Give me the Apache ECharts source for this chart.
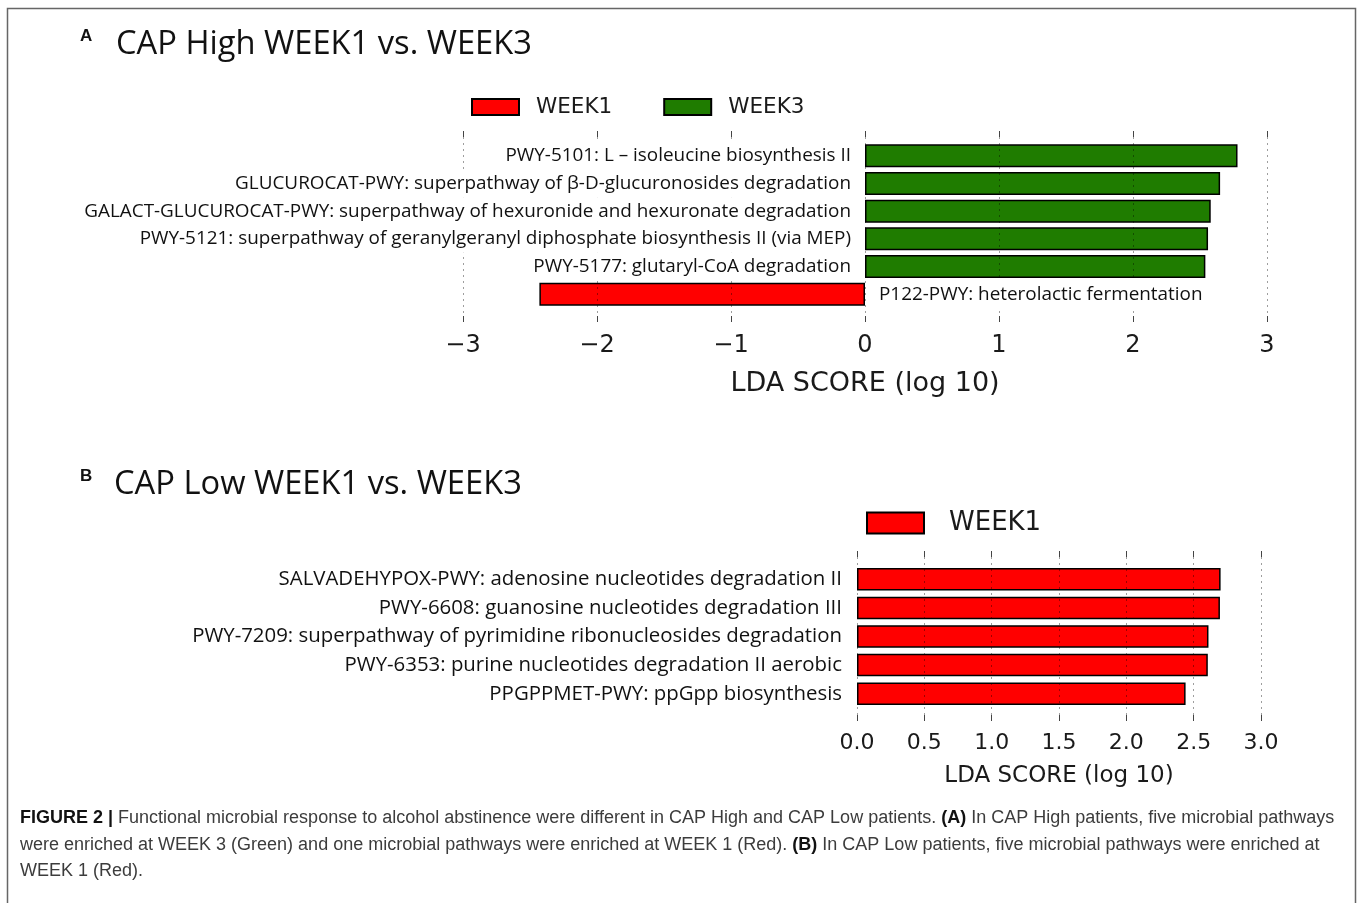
<!DOCTYPE html>
<html>
<head>
<meta charset="utf-8">
<script src="https://cdn.jsdelivr.net/npm/echarts@6/dist/echarts.min.js"></script>
<style>
  html, body { margin: 0; padding: 0; background: #fff; }
  #chart { width: 1357px; height: 903px; }
</style>
</head>
<body>
<div id="chart"></div>
<script>
// ---------- data ----------
const topCategories = [
  'PWY-5101: L \u2013 isoleucine biosynthesis II',
  'GLUCUROCAT-PWY: superpathway of \u03b2-D-glucuronosides degradation',
  'GALACT-GLUCUROCAT-PWY: superpathway of hexuronide and hexuronate degradation',
  'PWY-5121: superpathway of geranylgeranyl diphosphate biosynthesis II (via MEP)',
  'PWY-5177: glutaryl-CoA degradation',
  'P122-PWY: heterolactic fermentation'
];
const topWeek3 = [2.78, 2.65, 2.58, 2.56, 2.54, '-'];
const topWeek1 = ['-', '-', '-', '-', '-', -2.43];
const topTickValues = [-3, -2, -1, 0, 1, 2, 3];
const topTickLabels = ['\u22123', '\u22122', '\u22121', '0', '1', '2', '3'];

const bottomCategories = [
  'SALVADEHYPOX-PWY: adenosine nucleotides degradation II',
  'PWY-6608: guanosine nucleotides degradation III',
  'PWY-7209: superpathway of pyrimidine ribonucleosides degradation',
  'PWY-6353: purine nucleotides degradation II aerobic',
  'PPGPPMET-PWY: ppGpp biosynthesis'
];
const bottomWeek1 = [2.70, 2.695, 2.61, 2.605, 2.44];
const bottomTickValues = [0, 0.5, 1, 1.5, 2, 2.5, 3];
const bottomTickLabels = ['0.0', '0.5', '1.0', '1.5', '2.0', '2.5', '3.0'];

const seriesNames = ['WEEK1', 'WEEK3'];
const titleA = 'CAP High WEEK1 vs. WEEK3';
const titleB = 'CAP Low WEEK1 vs. WEEK3';
const captionLines = [
  '{b|FIGURE 2 |} Functional microbial response to alcohol abstinence were different in CAP High and CAP Low patients. {b|(A)} In CAP High patients, five microbial pathways',
  'were enriched at WEEK 3 (Green) and one microbial pathways were enriched at WEEK 1 (Red). {b|(B)} In CAP Low patients, five microbial pathways were enriched at',
  'WEEK 1 (Red).'
];

// ---------- style ----------
const RED = '#ff0000';
const GREEN = '#1f7c00';
const LABEL_FONT = '"Open Sans", sans-serif';
const AXIS_FONT = '"DejaVu Sans", sans-serif';
const CAPTION_FONT = '"Liberation Sans", Arial, sans-serif';

function tickFmt(values, labels) {
  return function (v) {
    const i = values.findIndex(t => Math.abs(t - v) < 1e-6);
    return i >= 0 ? labels[i] : '';
  };
}

const gridLine = { show: true, lineStyle: { color: 'rgba(0,0,0,0.38)', width: 1, type: [2, 4] } };

function overlayAxes(gridIndex, min, max, interval, values, labels, fontSize, margin, nameSize, nameGap) {
  return [
    {
      gridIndex, type: 'value', min, max, interval, position: 'bottom', z: 10,
      axisLine: { show: false },
      axisTick: { show: true, inside: true, length: 6, lineStyle: { color: '#444', width: 1 } },
      axisLabel: { show: true, formatter: tickFmt(values, labels), fontFamily: AXIS_FONT, fontSize, color: '#1a1a1a', margin },
      splitLine: gridLine,
      name: 'LDA SCORE (log 10)', nameLocation: 'middle', nameGap,
      nameTextStyle: { fontFamily: AXIS_FONT, fontSize: nameSize, color: '#1a1a1a' }
    },
    {
      gridIndex, type: 'value', min, max, interval, position: 'top', z: 10,
      axisLine: { show: false },
      axisTick: { show: true, inside: true, length: 6, lineStyle: { color: '#444', width: 1 } },
      axisLabel: { show: false },
      splitLine: { show: false }
    }
  ];
}

function barLabel(pos, dist, size) {
  return {
    show: true, position: pos, distance: dist,
    formatter: p => p.name,
    fontFamily: LABEL_FONT, fontSize: size, color: '#111',
    backgroundColor: '#fff', padding: [4, 0], lineHeight: 20
  };
}

function barSeries(name, data, color, xi, yi, width) {
  return {
    name, type: 'bar', xAxisIndex: xi, yAxisIndex: yi, data, barWidth: width, barGap: '-100%',
    itemStyle: { color, borderColor: '#000', borderWidth: 1.5 }, z: 2
  };
}

function labelSeries(data, pos, dist, xi, yi, width, size) {
  return {
    name: 'labels', type: 'bar', xAxisIndex: xi, yAxisIndex: yi, data, barWidth: width, barGap: '-100%',
    itemStyle: { color: 'rgba(0,0,0,0)' }, silent: true, z: 20,
    label: barLabel(pos, dist, size)
  };
}

const option = {
  backgroundColor: '#fff',
  animation: false,
  title: [
    { text: 'A', left: 80, top: 28, padding: 0, textStyle: { fontFamily: CAPTION_FONT, fontWeight: 'bold', fontSize: 17, color: '#111' } },
    { text: titleA, left: 116, top: 28, padding: 0, textStyle: { fontFamily: LABEL_FONT, fontWeight: 'normal', fontSize: 32.7, color: '#111' } },
    { text: 'B', left: 80, top: 468, padding: 0, textStyle: { fontFamily: CAPTION_FONT, fontWeight: 'bold', fontSize: 17, color: '#111' } },
    { text: titleB, left: 114, top: 468, padding: 0, textStyle: { fontFamily: LABEL_FONT, fontWeight: 'normal', fontSize: 32.7, color: '#111' } },
    {
      text: captionLines.join('\n'), left: 20, top: 805, padding: 0,
      textStyle: {
        fontFamily: CAPTION_FONT, fontSize: 18, fontWeight: 'normal', color: '#3c3c3c', lineHeight: 26.5,
        rich: { b: { fontFamily: CAPTION_FONT, fontWeight: 'bold', fontSize: 18, color: '#111', lineHeight: 26.5 } }
      }
    }
  ],
  legend: [
    {
      data: seriesNames, left: 471, top: 96, padding: 0, icon: 'rect',
      itemWidth: 47, itemHeight: 16, itemGap: 51, selectedMode: false,
      textStyle: { fontFamily: AXIS_FONT, fontSize: 21.5, color: '#1a1a1a', padding: [0, 0, 0, 12] }
    },
    {
      data: [seriesNames[0]], left: 866, top: 510, padding: 0, icon: 'rect',
      itemWidth: 57, itemHeight: 21, selectedMode: false,
      textStyle: { fontFamily: AXIS_FONT, fontSize: 26, color: '#1a1a1a', padding: [0, 0, 0, 20] }
    }
  ],
  grid: [
    { left: 463, width: 804, top: 142, height: 166 },   // top bars
    { left: 463, width: 804, top: 131, height: 191 },   // top axes
    { left: 857, width: 404, top: 565, height: 143 },   // bottom bars
    { left: 857, width: 404, top: 551, height: 170 }    // bottom axes
  ],
  xAxis: [
    { gridIndex: 0, type: 'value', min: -3, max: 3, show: false },
    ...overlayAxes(1, -3, 3, 1, topTickValues, topTickLabels, 24, 12, 27, 48),
    { gridIndex: 2, type: 'value', min: 0, max: 3, show: false },
    ...overlayAxes(3, 0, 3, 0.5, bottomTickValues, bottomTickLabels, 22, 11, 23, 44)
  ],
  yAxis: [
    { gridIndex: 0, type: 'category', data: topCategories, inverse: true, show: false },
    { gridIndex: 1, type: 'value', show: false },
    { gridIndex: 2, type: 'category', data: bottomCategories, inverse: true, show: false },
    { gridIndex: 3, type: 'value', show: false }
  ],
  series: [
    barSeries(seriesNames[1], topWeek3, GREEN, 0, 0, 23),
    barSeries(seriesNames[0], topWeek1, RED, 0, 0, 23),
    labelSeries(topWeek3, 'left', 14, 0, 0, 23, 18.9),
    labelSeries(topWeek1, 'right', 14, 0, 0, 23, 18.9),
    barSeries(seriesNames[0], bottomWeek1, RED, 3, 2, 22.5),
    labelSeries(bottomWeek1, 'left', 15, 3, 2, 22.5, 20.4)
  ],
  graphic: [
    {
      type: 'polyline', silent: true,
      shape: { points: [[7.5, 905], [7.5, 8.5], [1355.5, 8.5], [1355.5, 905]] },
      style: { stroke: '#666', lineWidth: 1.5, fill: null }
    }
  ]
};

const chart = echarts.init(document.getElementById('chart'), null, { renderer: 'canvas' });
chart.setOption(option);
</script>
</body>
</html>
